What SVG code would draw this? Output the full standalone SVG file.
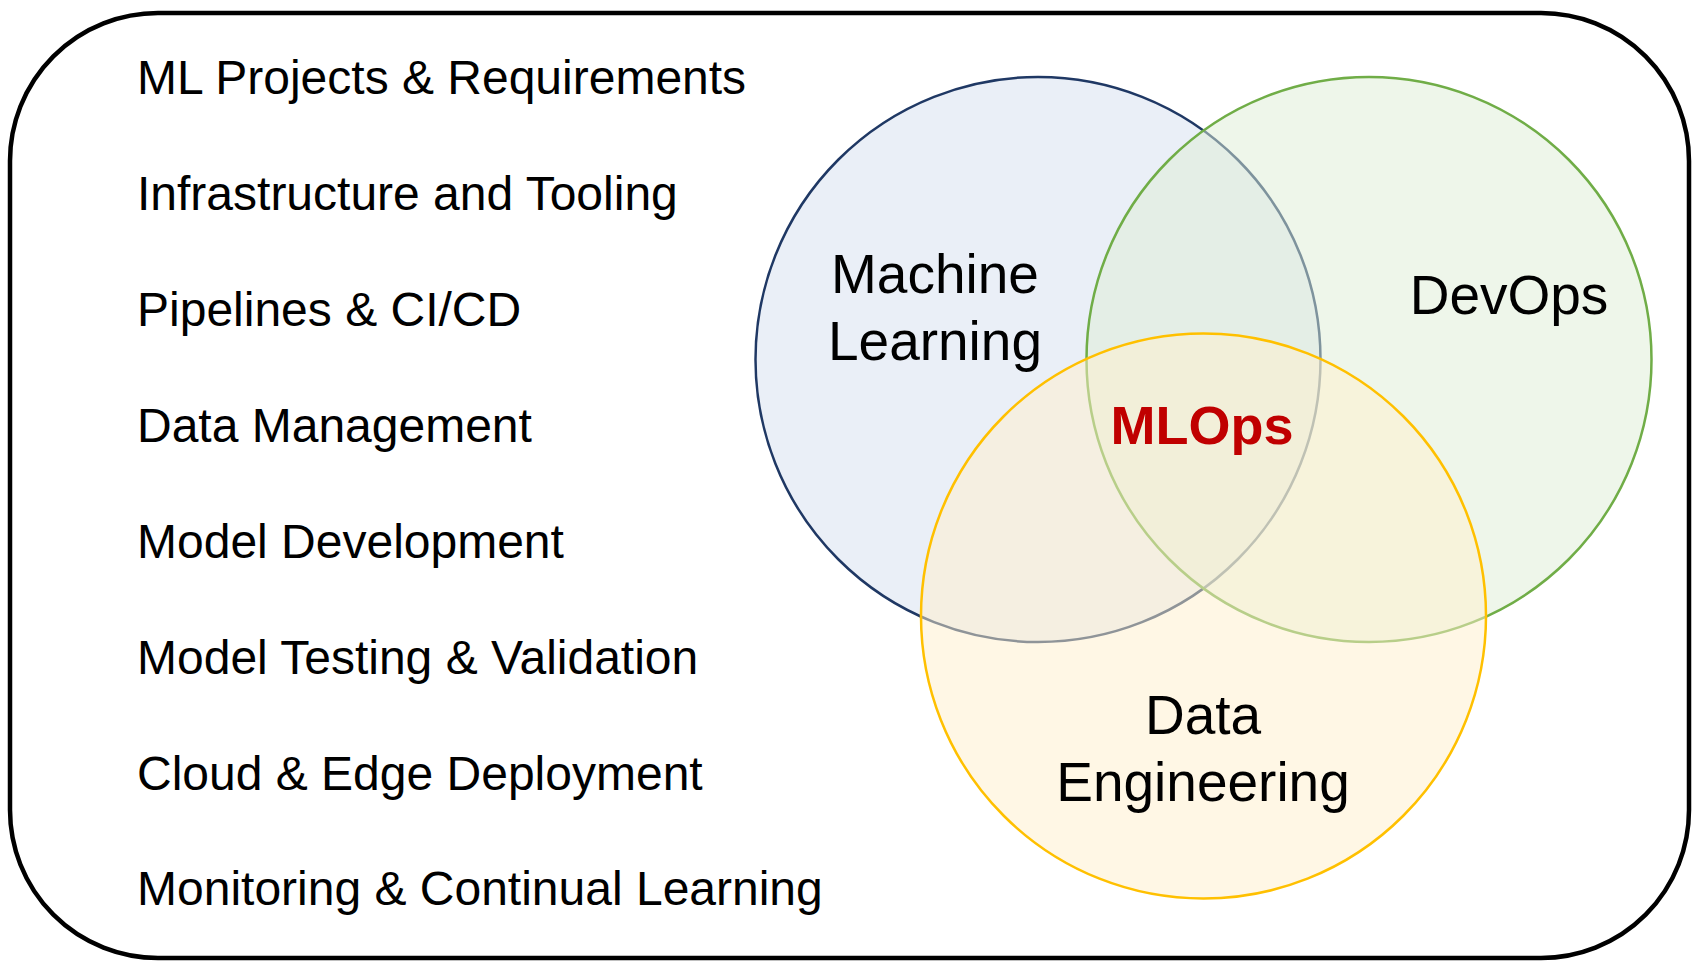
<svg xmlns="http://www.w3.org/2000/svg" width="1704" height="974" viewBox="0 0 1704 974">
  <style>
    .item { font-family: "Liberation Sans", Arial, sans-serif; font-size: 48px; fill: #000000; }
    .lbl { font-family: "Liberation Sans", Arial, sans-serif; font-size: 55px; fill: #000000; text-anchor: middle; }
    .core { font-family: "Liberation Sans", Arial, sans-serif; font-size: 54px; font-weight: bold; fill: #C00000; text-anchor: middle; }
    .circ { stroke-width: 2.5; fill-opacity: 0.5; }
  </style>
  <rect width="1704" height="974" fill="#ffffff"/>
  <g id="frame">
    <rect x="10" y="13" width="1679" height="945" rx="148" ry="148" fill="none" stroke="#000000" stroke-width="4.5"/>
  </g>
  <g id="list">
    <text class="item" x="137" y="94">ML Projects &amp; Requirements</text>
    <text class="item" x="137" y="210">Infrastructure and Tooling</text>
    <text class="item" x="137" y="326">Pipelines &amp; CI/CD</text>
    <text class="item" x="137" y="442">Data Management</text>
    <text class="item" x="137" y="558">Model Development</text>
    <text class="item" x="137" y="674">Model Testing &amp; Validation</text>
    <text class="item" x="137" y="790">Cloud &amp; Edge Deployment</text>
    <text class="item" x="137" y="905">Monitoring &amp; Continual Learning</text>
  </g>
  <g id="machine-learning">
    <circle class="circ" cx="1038" cy="359.5" r="282.5" fill="#D6E0F0" stroke="#1F3864"/>
  </g>
  <g id="devops">
    <circle class="circ" cx="1369" cy="359.5" r="282.5" fill="#DDEDD5" stroke="#70AD47"/>
  </g>
  <g id="data-engineering">
    <circle class="circ" cx="1203.5" cy="616" r="282.5" fill="#FFEFCC" stroke="#FFC000"/>
  </g>
  <g id="labels">
    <text class="lbl" x="935" y="293">Machine</text>
    <text class="lbl" x="935" y="360">Learning</text>
    <text class="lbl" x="1509" y="314">DevOps</text>
    <text class="lbl" x="1203" y="734">Data</text>
    <text class="lbl" x="1203" y="801">Engineering</text>
    <text class="core" x="1202" y="444">MLOps</text>
  </g>
</svg>
